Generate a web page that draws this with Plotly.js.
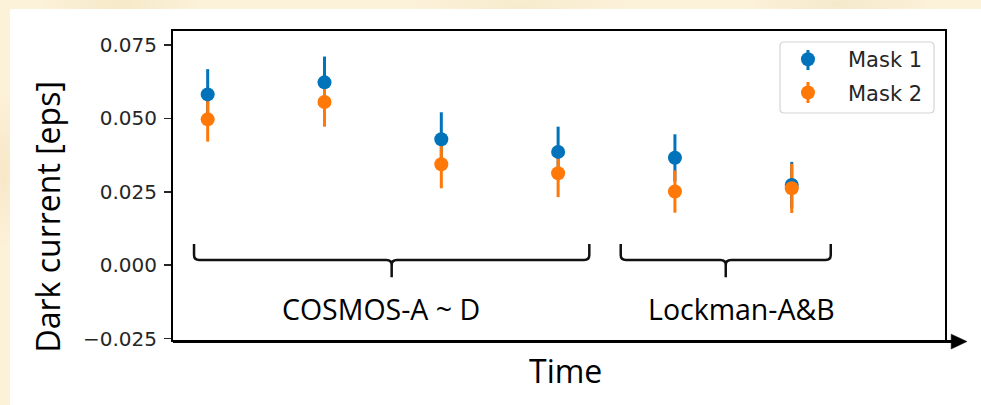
<!DOCTYPE html>
<html>
<head>
<meta charset="utf-8">
<script src="https://cdn.plot.ly/plotly-3.0.1.min.js"></script>
<style>
  html, body { margin: 0; padding: 0; }
  body {
    width: 981px; height: 405px; overflow: hidden; position: relative;
    background:
      radial-gradient(ellipse 120px 40px at 120px 4px, rgba(240,225,185,0.55), rgba(240,225,185,0) 70%),
      radial-gradient(ellipse 160px 40px at 520px 6px, rgba(242,228,190,0.5), rgba(242,228,190,0) 70%),
      radial-gradient(ellipse 140px 40px at 840px 4px, rgba(238,224,188,0.5), rgba(238,224,188,0) 70%),
      radial-gradient(ellipse 30px 120px at 4px 170px, rgba(245,222,185,0.55), rgba(245,222,185,0) 70%),
      #fcf2da;
  }
  #chart { position: absolute; left: 10px; top: 9px; width: 971px; height: 396px; background: #fff; }
</style>
</head>
<body>
<div id="chart"></div>
<script>
// Observation sequence (arbitrary time order, no tick labels on x)
const visits = [1, 2, 3, 4, 5, 6];

// Dark current per visit [electrons per second]
const mask1 = [0.0582, 0.0623, 0.0429, 0.0386, 0.0366, 0.0273];
const mask1Err = [0.0086, 0.0088, 0.0092, 0.0086, 0.0080, 0.0079];
const mask2 = [0.0497, 0.0556, 0.0344, 0.0313, 0.0251, 0.0262];
const mask2Err = [0.0076, 0.0084, 0.0082, 0.0081, 0.0072, 0.0084];

// Y tick positions and labels
const yTickVals = [-0.025, 0, 0.025, 0.05, 0.075];
const yTickText = ["\u22120.025", "0.000", "0.025", "0.050", "0.075"];

// Field groups marked with a brace under the points
const groupNames = ["COSMOS-A ~ D", "Lockman-A&B"];
const groupStart = [0.883, 4.536];
const groupEnd = [4.267, 6.334];
const groupMid = [2.575, 5.435];
const groupLabelX = [2.484, 5.566];

const seriesNames = ["Mask 1", "Mask 2"];
const blue = "#0073ba";
const orange = "#ff7808";

// error bars first (both series), then the markers on top
function errTrace(y, err, color) {
  return {
    x: visits, y: y, type: "scatter", mode: "markers",
    marker: { size: 1, color: "rgba(0,0,0,0)" },
    error_y: { type: "data", array: err, visible: true, color: color, thickness: 3, width: 0 },
    showlegend: false, hoverinfo: "skip"
  };
}
function pointTrace(name, y, color) {
  return {
    x: visits, y: y, type: "scatter", mode: "markers", name: name, legendgroup: name,
    marker: { size: 14, color: color }
  };
}

const data = [
  errTrace(mask1, mask1Err, blue),
  errTrace(mask2, mask2Err, orange),
  pointTrace(seriesNames[0], mask1, blue),
  pointTrace(seriesNames[1], mask2, orange)
];

// curly brace below a group of points
function bracePath(x0, x1, xm) {
  const yTop = 0.0072, yLine = 0.0018, yTip = -0.0041;
  const dx = 0.045, dy = 0.0017;
  return `M ${x0},${yTop} L ${x0},${yLine + dy} Q ${x0},${yLine} ${x0 + dx},${yLine} ` +
         `L ${xm - dx},${yLine} Q ${xm},${yLine} ${xm},${yLine - dy} L ${xm},${yTip} ` +
         `M ${xm},${yLine - dy} Q ${xm},${yLine} ${xm + dx},${yLine} ` +
         `L ${x1 - dx},${yLine} Q ${x1},${yLine} ${x1},${yLine + dy} L ${x1},${yTop}`;
}

const shapes = groupNames.map((_, i) => ({
  type: "path", xref: "x", yref: "y",
  path: bracePath(groupStart[i], groupEnd[i], groupMid[i]),
  line: { color: "#111111", width: 2.5 }
}));

// time arrow along the bottom
shapes.push({
  type: "line", xref: "paper", yref: "paper",
  x0: 0, x1: 1.012, y0: -0.005, y1: -0.005,
  line: { color: "#000000", width: 3 }
});
shapes.push({
  type: "path", xref: "paper", yref: "paper",
  path: "M 1.008,0.019 L 1.008,-0.029 L 1.0285,-0.005 Z",
  fillcolor: "#000000", line: { color: "#000000", width: 0.5 }
});

// rounded legend frame
(function () {
  const x0 = 0.7863, x1 = 0.9858, y0 = 0.7346, y1 = 0.9644, rx = 0.0055, ry = 0.014;
  shapes.push({
    type: "path", xref: "paper", yref: "paper",
    path: `M ${x0 + rx},${y0} L ${x1 - rx},${y0} Q ${x1},${y0} ${x1},${y0 + ry} ` +
          `L ${x1},${y1 - ry} Q ${x1},${y1} ${x1 - rx},${y1} L ${x0 + rx},${y1} ` +
          `Q ${x0},${y1} ${x0},${y1 - ry} L ${x0},${y0 + ry} Q ${x0},${y0} ${x0 + rx},${y0} Z`,
    fillcolor: "rgba(255,255,255,0.85)", line: { color: "#d4d4d4", width: 1.2 }
  });
})();

// error-bar stroke behind each legend marker
const legendKeyX = 0.8225;
const legendKeyY = [[0.8738, 0.9385], [0.767, 0.835]];
[blue, orange].forEach((c, i) => shapes.push({
  type: "line", xref: "paper", yref: "paper",
  x0: legendKeyX, x1: legendKeyX, y0: legendKeyY[i][0], y1: legendKeyY[i][1],
  line: { color: c, width: 3 }
}));

const annotations = groupNames.map((name, i) => ({
  text: name, x: groupLabelX[i], y: -0.0148, xref: "x", yref: "y",
  showarrow: false, xanchor: "center", yanchor: "middle",
  font: { family: "Open Sans", size: 28.5, color: "#000000" }
}));

annotations.push({
  text: "Dark current [eps]", textangle: -90,
  xref: "paper", yref: "paper", x: -0.163, y: 0.397,
  xanchor: "center", yanchor: "middle", showarrow: false,
  font: { family: "Open Sans", size: 32, color: "#000000" }
});
annotations.push({
  text: "Time",
  xref: "paper", yref: "paper", x: 0.509, y: -0.1,
  xanchor: "center", yanchor: "middle", showarrow: false,
  font: { family: "Open Sans", size: 32, color: "#000000" }
});

const layout = {
  width: 971, height: 396,
  margin: { l: 163, r: 36, t: 22, b: 65 },
  paper_bgcolor: "#ffffff", plot_bgcolor: "#ffffff",
  showlegend: true,
  legend: {
    x: 0.7707, y: 0.974, xanchor: "left", yanchor: "top",
    itemwidth: 70, tracegroupgap: 3, traceorder: "grouped",
    bgcolor: "rgba(0,0,0,0)", borderwidth: 0,
    font: { family: "DejaVu Sans", size: 21, color: "#262626" }
  },
  xaxis: {
    range: [0.703, 7.312], showgrid: false, zeroline: false,
    showticklabels: false, ticks: "",
    showline: true, mirror: true, linecolor: "#000000", linewidth: 2
  },
  yaxis: {
    range: [-0.0255, 0.0798], showgrid: false, zeroline: false,
    tickvals: yTickVals, ticktext: yTickText,
    ticks: "outside", ticklen: 7, tickwidth: 1.5, tickcolor: "#262626",
    ticklabelstandoff: 3,
    tickfont: { family: "DejaVu Sans", size: 20, color: "#262626" },
    showline: true, mirror: true, linecolor: "#000000", linewidth: 2
  },
  shapes: shapes,
  annotations: annotations
};

Plotly.newPlot("chart", data, layout, { displayModeBar: false, staticPlot: true });
</script>
</body>
</html>
